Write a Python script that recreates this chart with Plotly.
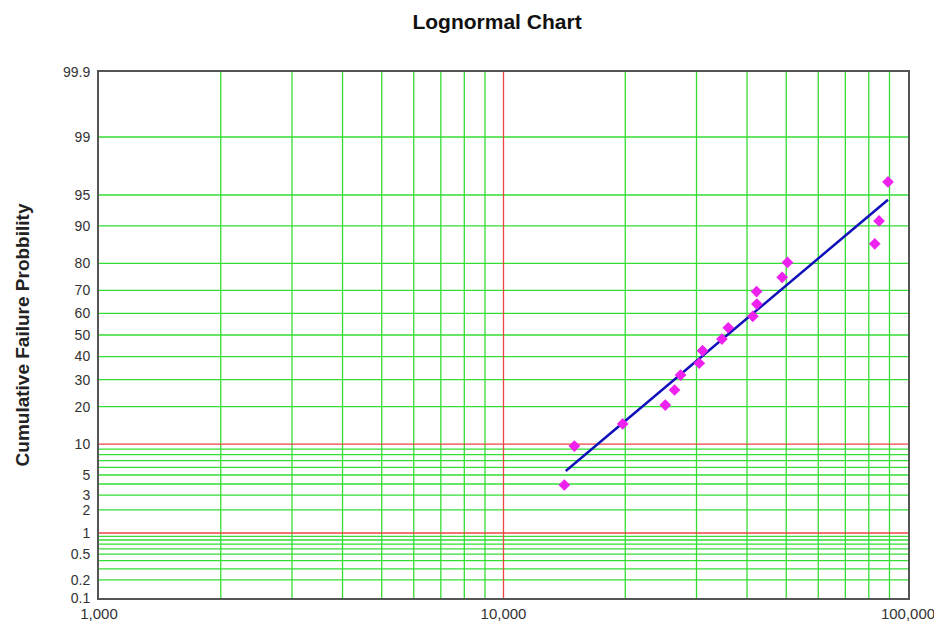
import plotly.graph_objects as go
from statistics import NormalDist

# ---- data ----
life = [14140, 14970, 19710, 25120, 26480, 27400, 30480, 31050, 34670,
        35940, 41350, 42300, 42230, 48850, 50350, 82760, 84800, 89240]
prob = [3.9, 9.6, 14.8, 20.5, 25.9, 31.9, 37.0, 42.7, 48.1,
        53.4, 58.7, 64.2, 69.5, 75.1, 80.3, 85.8, 91.0, 96.4]
fit_x = [14250, 89240]
fit_p = [5.5, 94.4]

ytick_labels = ["0.1", "0.2", "0.5", "1", "2", "3", "5", "10", "20", "30", "40",
                "50", "60", "70", "80", "90", "95", "99", "99.9"]
xtick_vals = [1000, 10000, 100000]
xtick_text = ["1,000", "10,000", "100,000"]

green_x = [2000, 3000, 4000, 5000, 6000, 7000, 8000, 9000,
           20000, 30000, 40000, 50000, 60000, 70000, 80000, 90000]
red_x = [10000]
green_y = [0.2, 0.3, 0.4, 0.5, 0.6, 0.7, 0.8, 0.9,
           2, 3, 4, 5, 6, 7, 8, 9,
           20, 30, 40, 50, 60, 70, 80, 90, 95, 99]
red_y = [1, 10]

nd = NormalDist()
def z(p):
    return nd.inv_cdf(p / 100.0)

XMIN, XMAX = 1000, 100000
ZMIN, ZMAX = z(0.1), z(99.9)

GREEN = "#33DD33"
RED = "#EE4444"

def vlines(xs):
    xx, yy = [], []
    for v in xs:
        xx += [v, v, None]
        yy += [ZMIN, ZMAX, None]
    return xx, yy

def hlines(ps):
    xx, yy = [], []
    for p in ps:
        xx += [XMIN, XMAX, None]
        yy += [z(p), z(p), None]
    return xx, yy

fig = go.Figure()
for (xx, yy), col in [(vlines(green_x), GREEN), (hlines(green_y), GREEN),
                      (vlines(red_x), RED), (hlines(red_y), RED)]:
    fig.add_trace(go.Scatter(x=xx, y=yy, mode="lines",
                             line=dict(color=col, width=1.3),
                             hoverinfo="skip", showlegend=False))

fig.add_trace(go.Scatter(x=fit_x, y=[z(p) for p in fit_p], mode="lines",
                         line=dict(color="#1010BB", width=2.5),
                         showlegend=False))
fig.add_trace(go.Scatter(x=life, y=[z(p) for p in prob], mode="markers",
                         marker=dict(symbol="diamond", size=9, color="#EE22EE"),
                         showlegend=False))

fig.update_layout(
    width=934, height=624,
    margin=dict(l=91, r=34, t=64, b=34, autoexpand=False),
    paper_bgcolor="white", plot_bgcolor="white",
    font=dict(family="Liberation Sans, Arial, sans-serif", size=15, color="#333333"),
    title=dict(text="<b>Lognormal Chart</b>", x=0.5236, xanchor="center",
               y=0.978, yanchor="middle",
               font=dict(size=21, color="#111111")),
    xaxis=dict(type="log", range=[3, 5], tickvals=xtick_vals, ticktext=xtick_text,
               showgrid=False, zeroline=False, showline=True, linecolor="#555555",
               linewidth=2, mirror=True, ticks="", ticklabelstandoff=1,
               automargin=False,
               tickfont=dict(size=15, color="#333333")),
    yaxis=dict(range=[ZMIN, ZMAX], tickvals=[z(float(t)) for t in ytick_labels],
               ticktext=ytick_labels, automargin=False,
               showgrid=False, zeroline=False, showline=True, linecolor="#555555",
               linewidth=2, mirror=True, ticks="", ticklabelstandoff=4,
               tickfont=dict(size=14, color="#333333"),
               title=dict(text="<b>Cumulative Failure Probbility</b>",
                          font=dict(size=19, color="#222222"), standoff=28)),
)

fig.write_html("out.html")
